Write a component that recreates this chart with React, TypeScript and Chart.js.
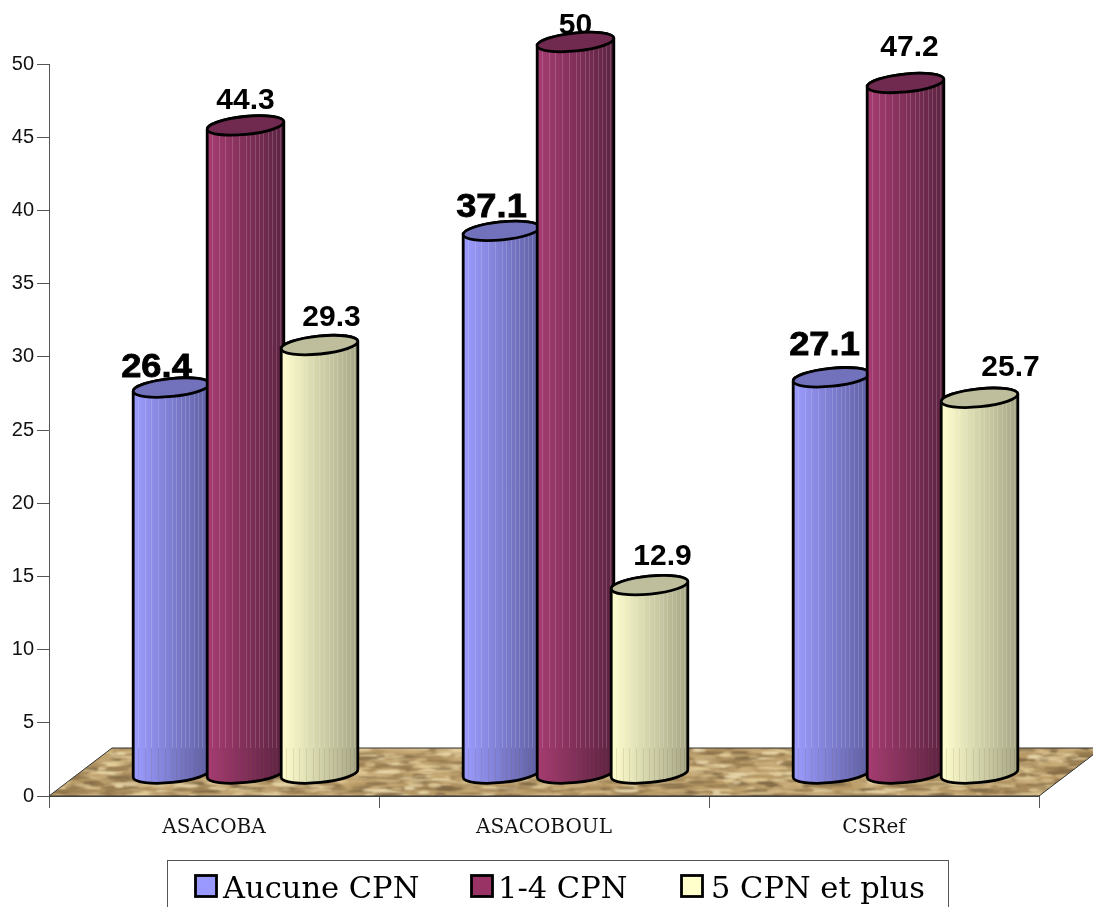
import React, { useEffect, useRef } from "react";
import { Chart, registerables } from "chart.js";

Chart.register(...registerables);

const categories = ["ASACOBA", "ASACOBOUL", "CSRef"];
const seriesNames = ["Aucune CPN", "1-4 CPN", "5 CPN et plus"];
const aucuneCpn = [26.4, 37.1, 27.1];
const unAQuatreCpn = [44.3, 50, 47.2];
const cinqEtPlus = [29.3, 12.9, 25.7];
const yTicks = [0, 5, 10, 15, 20, 25, 30, 35, 40, 45, 50];

// Side colours (lit, shaded), cap colour and swatch colour per series.
const lit = ["#9C9CFF", "#A63C72", "#FFFFCF"];
const shade = ["#5F5FA3", "#5C2341", "#A6A686"];
const cap = ["#7272BC", "#70294F", "#BEBE9C"];
const swatch = ["#9999FF", "#993366", "#FFFFCC"];

// Nudges that keep the value labels clear of the cylinders, per series then category.
const labelDx = [[-15, -10, -7], [0, 0, 4], [12, 13, 31]];
const labelDy = [[-41, -45, -53], [-47, -38, -57], [-49, -50, -52]];
const labelWide = [true, false, false];

const DEPTH_X = 31.5;
const DEPTH_Y = 22;
const FLOOR_X = 63;
const FLOOR_Y = 48;
const TILT = -0.1;
const RY = 9;
const STREAKS = [0.07, 0.16, 0.24, 0.33, 0.41, 0.5, 0.56, 0.62, 0.68, 0.73, 0.79, 0.84, 0.9, 0.95];

// Woven sand texture for the floor, from a fixed-seed generator.
function makeSand(w: number, h: number) {
  const c = document.createElement("canvas");
  c.width = w;
  c.height = h;
  const g = c.getContext("2d") as CanvasRenderingContext2D;
  g.fillStyle = "#BC9E6B";
  g.fillRect(0, 0, w, h);
  let s = 12345;
  const next = () => {
    s = (s * 16807) % 2147483647;
    return s / 2147483647;
  };
  const tones = ["#E2CC98", "#E9D8AC", "#94794E", "#A88A5A", "#CFB482", "#7F6845", "#B89A66", "#C8AC78"];
  g.filter = "blur(1px)";
  for (let i = 0; i < 3600; i++) {
    g.fillStyle = tones[Math.floor(next() * tones.length)];
    g.beginPath();
    g.ellipse(next() * w, next() * h, 4 + next() * 12, 0.7 + next() * 1.2, 0, 0, Math.PI * 2);
    g.fill();
  }
  return c;
}

const cylinderPlugin = {
  id: "cylinders",
  beforeDatasetsDraw(chart: any) {
    const { ctx } = chart;
    const xs = chart.scales.x;
    const y0 = chart.scales.y.getPixelForValue(0);
    const backY = y0 - FLOOR_Y;
    ctx.save();
    ctx.beginPath();
    ctx.moveTo(xs.left, y0);
    ctx.lineTo(xs.right, y0);
    ctx.lineTo(xs.right + FLOOR_X, backY);
    ctx.lineTo(xs.left + FLOOR_X, backY);
    ctx.closePath();
    ctx.save();
    ctx.clip();
    ctx.drawImage(makeSand(1120, 60), xs.left, backY);
    ctx.restore();
    ctx.strokeStyle = "#333";
    ctx.lineWidth = 1;
    ctx.stroke();
    ctx.restore();

    // Value labels sit behind the cylinders, so a cap may cover their lower edge.
    chart.data.datasets.forEach((ds: any, d: number) => {
      ds.data.forEach((v: number, c: number) => {
        const bar = chart.getDatasetMeta(d).data[c];
        ctx.save();
        ctx.translate(bar.x + DEPTH_X + labelDx[d][c], bar.y + labelDy[d][c]);
        if (labelWide[d]) ctx.scale(1.21, 1.08);
        ctx.font = 'bold 30px "Liberation Sans"';
        ctx.textAlign = "center";
        ctx.textBaseline = "middle";
        ctx.fillStyle = "#000";
        ctx.fillText(String(v), 0, 0);
        if (labelWide[d]) {
          ctx.strokeStyle = "#000";
          ctx.lineWidth = 0.7;
          ctx.strokeText(String(v), 0, 0);
        }
        ctx.restore();
      });
    });
  },
  afterDatasetsDraw(chart: any) {
    const { ctx } = chart;
    const yScale = chart.scales.y;
    const backY = yScale.getPixelForValue(0) - FLOOR_Y;
    const count = chart.data.labels.length;
    for (let c = 0; c < count; c++) {
      chart.data.datasets.forEach((_: any, d: number) => {
        const bar = chart.getDatasetMeta(d).data[c];
        const cx = bar.x + DEPTH_X;
        const rx = bar.width / 2 + 1.5;
        const topY = bar.y - DEPTH_Y;
        const baseY = bar.base - DEPTH_Y;

        const body = new Path2D();
        body.ellipse(cx, baseY, rx, RY, TILT, Math.PI, 0, true);
        body.ellipse(cx, topY, rx, RY, TILT, 0, Math.PI, true);
        body.closePath();

        const grad = ctx.createLinearGradient(cx - rx, 0, cx + rx, 0);
        grad.addColorStop(0, lit[d]);
        grad.addColorStop(1, shade[d]);
        ctx.save();
        ctx.fillStyle = grad;
        ctx.fill(body);
        ctx.clip(body);
        ctx.lineWidth = 1;
        for (const f of STREAKS) {
          const sx = Math.round(cx - rx + f * 2 * rx) + 0.5;
          ctx.strokeStyle = "rgba(255,255,255,0.16)";
          ctx.beginPath();
          ctx.moveTo(sx, topY - 10);
          ctx.lineTo(sx, backY);
          ctx.stroke();
          ctx.strokeStyle = "rgba(120,95,50,0.14)";
          ctx.beginPath();
          ctx.moveTo(sx, backY);
          ctx.lineTo(sx, baseY + 10);
          ctx.stroke();
        }
        ctx.restore();

        ctx.strokeStyle = "#000";
        ctx.lineWidth = 2.8;
        ctx.stroke(body);
        ctx.beginPath();
        ctx.ellipse(cx, topY, rx, RY, TILT, 0, Math.PI * 2);
        ctx.fillStyle = cap[d];
        ctx.fill();
        ctx.stroke();
      });
    }

    // Framed key under the axis.
    const boxX = [195.5, 471.5, 681.5];
    const textX = [223, 498, 711];
    ctx.save();
    ctx.strokeStyle = "#555";
    ctx.lineWidth = 1;
    ctx.strokeRect(167.5, 860.5, 781, 70);
    ctx.font = '30.5px "DejaVu Serif"';
    ctx.textBaseline = "alphabetic";
    ctx.textAlign = "left";
    seriesNames.forEach((n, i) => {
      ctx.fillStyle = swatch[i];
      ctx.fillRect(boxX[i], 875.5, 21, 21);
      ctx.strokeStyle = "#000";
      ctx.lineWidth = 2.8;
      ctx.strokeRect(boxX[i], 875.5, 21, 21);
      ctx.fillStyle = "#000";
      ctx.fillText(n, textX[i], 898);
    });
    ctx.restore();
  },
};

export default function App() {
  const ref = useRef<HTMLCanvasElement>(null);
  useEffect(() => {
    const values = [aucuneCpn, unAQuatreCpn, cinqEtPlus];
    const chart = new Chart(ref.current as HTMLCanvasElement, {
      type: "bar",
      data: {
        labels: categories,
        datasets: seriesNames.map((label, i) => ({
          label,
          data: values[i],
          backgroundColor: "transparent",
          borderWidth: 0,
          categoryPercentage: 0.6727,
          barPercentage: 1,
        })),
      },
      options: {
        responsive: false,
        animation: false,
        layout: { padding: { top: 64, right: 54, left: 0, bottom: 0 } },
        plugins: { legend: { display: false }, tooltip: { enabled: false }, title: { display: false } },
        scales: {
          x: {
            afterFit: (s: any) => { s.height = 111; },
            grid: { drawOnChartArea: false, tickLength: 12, color: "#555", offset: true },
            border: { color: "#555" },
            ticks: { color: "#111", padding: 8, maxRotation: 0, font: { family: '"DejaVu Serif"', size: 20 } },
          },
          y: {
            min: 0,
            max: 50,
            afterFit: (s: any) => { s.width = 49; },
            afterBuildTicks: (s: any) => { s.ticks = yTicks.map((value) => ({ value })); },
            grid: { drawOnChartArea: false, tickLength: 12, color: "#555" },
            border: { color: "#555" },
            ticks: { color: "#111", padding: 3, font: { family: '"Liberation Sans"', size: 20 } },
          },
        },
      },
      plugins: [cylinderPlugin],
    } as any);
    return () => chart.destroy();
  }, []);
  return (
    <canvas
      ref={ref}
      width={1093}
      height={907}
      style={{ position: "absolute", left: 0, top: 0, width: 1093, height: 907, display: "block", background: "#fff" }}
    />
  );
}
